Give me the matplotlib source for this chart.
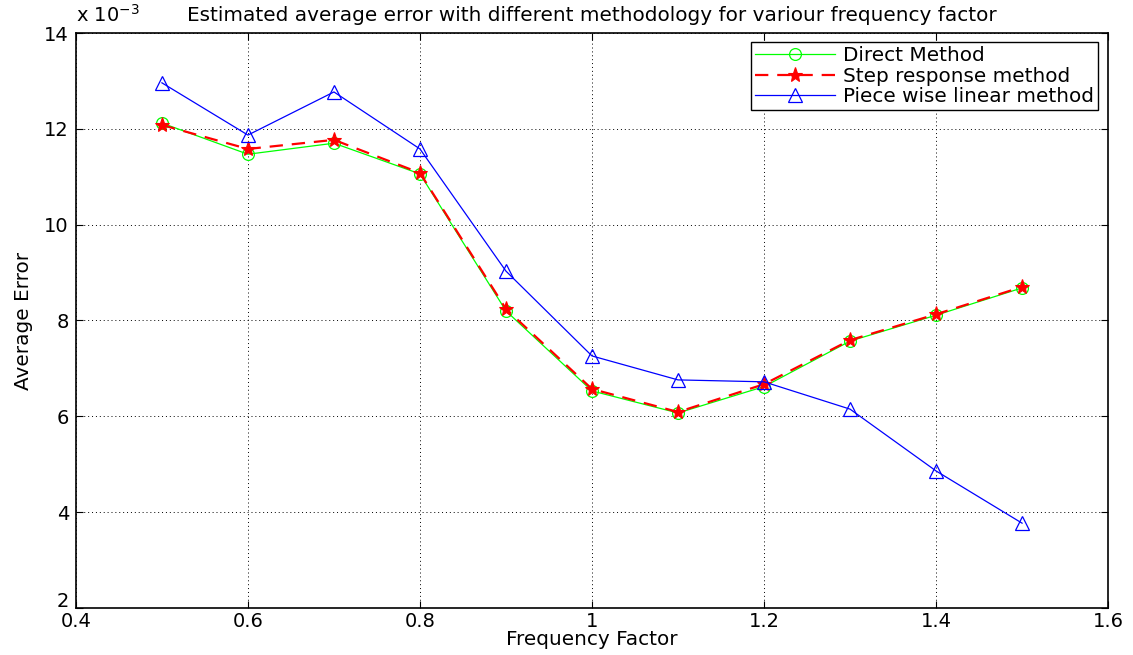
import matplotlib
matplotlib.use("Agg")
import matplotlib.pyplot as plt
from matplotlib.transforms import ScaledTranslation

freq = [0.5, 0.6, 0.7, 0.8, 0.9, 1.0, 1.1, 1.2, 1.3, 1.4, 1.5]
direct = [12.12, 11.47, 11.70, 11.06, 8.20, 6.53, 6.07, 6.62, 7.57, 8.11, 8.68]
step = [12.08, 11.58, 11.77, 11.08, 8.24, 6.57, 6.09, 6.67, 7.59, 8.13, 8.70]
piecewise = [12.96, 11.87, 12.77, 11.58, 9.03, 7.26, 6.76, 6.72, 6.15, 4.86, 3.77]

xticks = [0.4, 0.6, 0.8, 1.0, 1.2, 1.4, 1.6]
xticklabels = ["0.4", "0.6", "0.8", "1", "1.2", "1.4", "1.6"]
yticks = [2, 4, 6, 8, 10, 12, 14]

plt.rcParams["font.family"] = ["DejaVu Sans"]
plt.rcParams["mathtext.fontset"] = "dejavusans"
FS = 14.4
TICK_FS = 14

fig = plt.figure(figsize=(11.33, 6.55), dpi=100)
ax = fig.add_axes([0.067, 0.0718, 0.911, 0.8778])

ax.plot(freq, direct, color="#00ff00", lw=0.9, marker="o", ms=8.5,
        mfc="none", mec="#00ff00", mew=0.9, label="Direct Method")
ax.plot(freq, step, color="#ff0000", lw=1.6, ls=(0, (6, 4)), marker="*",
        ms=11, mfc="#ff0000", mec="#ff0000", mew=0.8, label="Step response method")
ax.plot(freq, piecewise, color="#0000ff", lw=0.9, marker="^", ms=10,
        mfc="none", mec="#0000ff", mew=0.9, label="Piece wise linear method")

ax.set_xlim(0.4, 1.6)
ax.set_ylim(2, 14)
ax.set_xticks(xticks)
ax.set_xticklabels(xticklabels, fontsize=TICK_FS)
ax.set_yticks(yticks)
ax.set_yticklabels([str(v) for v in yticks], fontsize=TICK_FS)
ax.tick_params(direction="in", top=True, right=True, length=5, width=0.8)
ax.tick_params(axis="x", pad=3)
ax.tick_params(axis="y", pad=5)
ax.grid(True, color="black", ls=(0, (1, 3)), lw=0.7)
for s in ax.spines.values():
    s.set_linewidth(1.2)

# lift the lowest y label so it clears the first x label
low = ax.get_yticklabels()[0]
low.set_transform(low.get_transform() + ScaledTranslation(0, 6 / 72, fig.dpi_scale_trans))

ax.set_xlabel("Frequency Factor", fontsize=FS, labelpad=-1)
ax.set_ylabel("Average Error", fontsize=FS, labelpad=8)
ax.set_title("Estimated average error with different methodology for variour frequency factor",
             fontsize=FS, pad=9)
ax.text(0.0, 1.012, "x 10$^{-3}$", transform=ax.transAxes, fontsize=TICK_FS,
        ha="left", va="bottom")

leg = ax.legend(loc="upper right", bbox_to_anchor=(0.9905, 0.984), fontsize=FS,
                fancybox=False, edgecolor="black", framealpha=1,
                handlelength=4.0, borderpad=0.2, labelspacing=0.08,
                handletextpad=0.4, borderaxespad=0.0)
leg.get_frame().set_linewidth(1.0)

fig.savefig("out.png", dpi=100)
